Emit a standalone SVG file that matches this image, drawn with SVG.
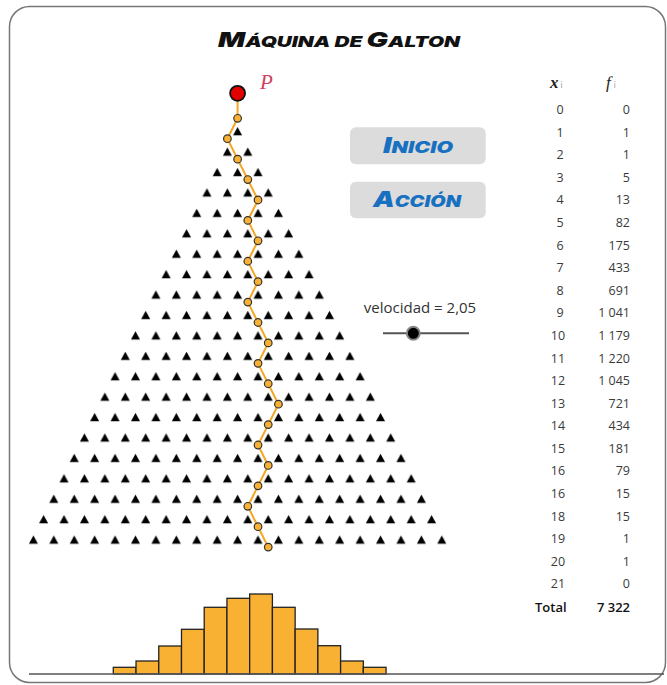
<svg xmlns="http://www.w3.org/2000/svg" width="667" height="685" viewBox="0 0 667 685">
<style>
.title{font-family:"Inter","Noto Sans","Open Sans",sans-serif;font-weight:900;font-style:italic;fill:#111;}
.btn{fill:#dcdcdc;}
.btxt{font-family:"Inter","Noto Sans","Open Sans",sans-serif;font-weight:900;font-style:italic;font-size:22px;fill:#1870c0;}
.sc{font-size:16px;}
.num{font-family:"Open Sans","Liberation Sans",sans-serif;font-size:12.5px;font-weight:400;fill:#3a3a3a;}
.xc{text-anchor:middle;}
.fc{text-anchor:end;}
.bar{fill:#f8b133;stroke:#222;stroke-width:1.3;}
.ball{fill:#f8b133;stroke:#333;stroke-width:1.2;}
</style>
<defs>
<pattern id="peg" patternUnits="userSpaceOnUse" width="20.42" height="20.42">
<polygon points="10.21,5.5 14.7,13.9 5.7,13.9" fill="#000"/>
</pattern>
</defs>
<rect x="9.5" y="6.5" width="656" height="676" rx="20" fill="#fff" stroke="#777" stroke-width="1.5"/>
<text class="title" x="218" y="47.3" font-size="20.5" textLength="242" lengthAdjust="spacingAndGlyphs">M<tspan font-size="15">ÁQUINA DE </tspan>G<tspan font-size="15">ALTON</tspan></text>
<g id="pegs">
<rect transform="translate(227.39,121.49)" width="20.42" height="20.42" fill="url(#peg)"/>
<rect transform="translate(217.18,141.91)" width="40.84" height="20.42" fill="url(#peg)"/>
<rect transform="translate(206.97,162.33)" width="61.26" height="20.42" fill="url(#peg)"/>
<rect transform="translate(196.76,182.75)" width="81.68" height="20.42" fill="url(#peg)"/>
<rect transform="translate(186.55,203.17)" width="102.10" height="20.42" fill="url(#peg)"/>
<rect transform="translate(176.34,223.59)" width="122.52" height="20.42" fill="url(#peg)"/>
<rect transform="translate(166.13,244.01)" width="142.94" height="20.42" fill="url(#peg)"/>
<rect transform="translate(155.92,264.43)" width="163.36" height="20.42" fill="url(#peg)"/>
<rect transform="translate(145.71,284.85)" width="183.78" height="20.42" fill="url(#peg)"/>
<rect transform="translate(135.50,305.27)" width="204.20" height="20.42" fill="url(#peg)"/>
<rect transform="translate(125.29,325.69)" width="224.62" height="20.42" fill="url(#peg)"/>
<rect transform="translate(115.08,346.11)" width="245.04" height="20.42" fill="url(#peg)"/>
<rect transform="translate(104.87,366.53)" width="265.46" height="20.42" fill="url(#peg)"/>
<rect transform="translate(94.66,386.95)" width="285.88" height="20.42" fill="url(#peg)"/>
<rect transform="translate(84.45,407.37)" width="306.30" height="20.42" fill="url(#peg)"/>
<rect transform="translate(74.24,427.79)" width="326.72" height="20.42" fill="url(#peg)"/>
<rect transform="translate(64.03,448.21)" width="347.14" height="20.42" fill="url(#peg)"/>
<rect transform="translate(53.82,468.63)" width="367.56" height="20.42" fill="url(#peg)"/>
<rect transform="translate(43.61,489.05)" width="387.98" height="20.42" fill="url(#peg)"/>
<rect transform="translate(33.40,509.47)" width="408.40" height="20.42" fill="url(#peg)"/>
<rect transform="translate(23.19,529.89)" width="428.82" height="20.42" fill="url(#peg)"/>
</g>
<g id="connectors">
<polyline fill="none" stroke="#f5a623" stroke-width="2" stroke-linejoin="round" points="237.6,93.3 237.6,118.3 227.39,138.72 237.6,159.14 247.81,179.56 258.02,199.98 247.81,220.4 258.02,240.82 247.81,261.24 258.02,281.66 247.81,302.08 258.02,322.5 268.23,342.92 258.02,363.34 268.23,383.76 278.44,404.18 268.23,424.6 258.02,445.02 268.23,465.44 258.02,485.86 247.81,506.28 258.02,526.7 268.23,547.12"/>
</g>
<g id="path-balls">
<circle class="ball" r="3.8" cx="237.6" cy="118.3"/>
<circle class="ball" r="3.8" cx="227.39" cy="138.72"/>
<circle class="ball" r="3.8" cx="237.6" cy="159.14"/>
<circle class="ball" r="3.8" cx="247.81" cy="179.56"/>
<circle class="ball" r="3.8" cx="258.02" cy="199.98"/>
<circle class="ball" r="3.8" cx="247.81" cy="220.4"/>
<circle class="ball" r="3.8" cx="258.02" cy="240.82"/>
<circle class="ball" r="3.8" cx="247.81" cy="261.24"/>
<circle class="ball" r="3.8" cx="258.02" cy="281.66"/>
<circle class="ball" r="3.8" cx="247.81" cy="302.08"/>
<circle class="ball" r="3.8" cx="258.02" cy="322.5"/>
<circle class="ball" r="3.8" cx="268.23" cy="342.92"/>
<circle class="ball" r="3.8" cx="258.02" cy="363.34"/>
<circle class="ball" r="3.8" cx="268.23" cy="383.76"/>
<circle class="ball" r="3.8" cx="278.44" cy="404.18"/>
<circle class="ball" r="3.8" cx="268.23" cy="424.6"/>
<circle class="ball" r="3.8" cx="258.02" cy="445.02"/>
<circle class="ball" r="3.8" cx="268.23" cy="465.44"/>
<circle class="ball" r="3.8" cx="258.02" cy="485.86"/>
<circle class="ball" r="3.8" cx="247.81" cy="506.28"/>
<circle class="ball" r="3.8" cx="258.02" cy="526.7"/>
<circle class="ball" r="3.8" cx="268.23" cy="547.12"/>
</g>
<g id="point-P">
<circle cx="237.6" cy="93.3" r="7.5" fill="#e00000" stroke="#111" stroke-width="1.8"/>
<text x="260" y="89.3" font-family="Liberation Serif,serif" font-style="italic" font-size="21" fill="#d23f5f">P</text>
</g>
<g id="btn-inicio">
<rect class="btn" x="350" y="127.3" width="135.7" height="37" rx="6"/>
<text class="btxt" x="383" y="152.7" textLength="70" lengthAdjust="spacingAndGlyphs">I<tspan class="sc">NICIO</tspan></text>
</g>
<g id="btn-accion">
<rect class="btn" x="350" y="181.7" width="135.7" height="36.6" rx="6"/>
<text class="btxt" x="373" y="207.3" textLength="88" lengthAdjust="spacingAndGlyphs">A<tspan class="sc">CCIÓN</tspan></text>
</g>
<g id="slider">
<text x="420" y="313.3" font-family="Open Sans,Liberation Sans,sans-serif" font-size="15" fill="#333" text-anchor="middle">velocidad = 2,05</text>
<line x1="383" y1="333.3" x2="469" y2="333.3" stroke="#555" stroke-width="2"/>
<circle cx="413.3" cy="333.3" r="6.5" fill="#000" stroke="#888" stroke-width="2"/>
</g>
<g id="table">
<text x="550" y="88" font-family="Liberation Serif,serif" font-style="italic" font-weight="bold" font-size="17" fill="#222">x<tspan font-family="Open Sans,sans-serif" font-style="normal" font-weight="300" font-size="9" fill="#555" dx="2">i</tspan></text>
<text x="606" y="88" font-family="Liberation Serif,serif" font-style="italic" font-size="17" fill="#222">f<tspan font-family="Open Sans,sans-serif" font-style="normal" font-weight="300" font-size="9" fill="#555" dx="3">i</tspan></text>
<g class="num">
<text class="xc" x="560" y="114">0</text><text class="fc" x="630" y="114">0</text>
<text class="xc" x="560" y="136.6">1</text><text class="fc" x="630" y="136.6">1</text>
<text class="xc" x="560" y="159.2">2</text><text class="fc" x="630" y="159.2">1</text>
<text class="xc" x="560" y="181.8">3</text><text class="fc" x="630" y="181.8">5</text>
<text class="xc" x="560" y="204.4">4</text><text class="fc" x="630" y="204.4">13</text>
<text class="xc" x="560" y="226.9">5</text><text class="fc" x="630" y="226.9">82</text>
<text class="xc" x="560" y="249.5">6</text><text class="fc" x="630" y="249.5">175</text>
<text class="xc" x="560" y="272.1">7</text><text class="fc" x="630" y="272.1">433</text>
<text class="xc" x="560" y="294.7">8</text><text class="fc" x="630" y="294.7">691</text>
<text class="xc" x="560" y="317.3">9</text><text class="fc" x="630" y="317.3">1 041</text>
<text class="xc" x="558" y="339.9">10</text><text class="fc" x="630" y="339.9">1 179</text>
<text class="xc" x="558" y="362.5">11</text><text class="fc" x="630" y="362.5">1 220</text>
<text class="xc" x="558" y="385.1">12</text><text class="fc" x="630" y="385.1">1 045</text>
<text class="xc" x="558" y="407.7">13</text><text class="fc" x="630" y="407.7">721</text>
<text class="xc" x="558" y="430.3">14</text><text class="fc" x="630" y="430.3">434</text>
<text class="xc" x="558" y="452.9">15</text><text class="fc" x="630" y="452.9">181</text>
<text class="xc" x="558" y="475.4">16</text><text class="fc" x="630" y="475.4">79</text>
<text class="xc" x="558" y="498">16</text><text class="fc" x="630" y="498">15</text>
<text class="xc" x="558" y="520.6">18</text><text class="fc" x="630" y="520.6">15</text>
<text class="xc" x="558" y="543.2">19</text><text class="fc" x="630" y="543.2">1</text>
<text class="xc" x="558" y="565.8">20</text><text class="fc" x="630" y="565.8">1</text>
<text class="xc" x="558" y="588.4">21</text><text class="fc" x="630" y="588.4">0</text>
</g>
<text x="535" y="611.5" font-family="Open Sans,Liberation Sans,sans-serif" font-size="13" font-weight="600" fill="#111">Total</text>
<text x="630" y="611.5" font-family="Open Sans,Liberation Sans,sans-serif" font-size="13" font-weight="600" fill="#111" text-anchor="end">7 322</text>
</g>
<g id="histogram">
<rect class="bar" x="113.3" y="667.3" width="22.73" height="6.7"/>
<rect class="bar" x="136.03" y="661" width="22.73" height="13"/>
<rect class="bar" x="158.76" y="646" width="22.73" height="28"/>
<rect class="bar" x="181.49" y="629.3" width="22.73" height="44.7"/>
<rect class="bar" x="204.22" y="607.3" width="22.73" height="66.7"/>
<rect class="bar" x="226.95" y="598.3" width="22.73" height="75.7"/>
<rect class="bar" x="249.68" y="594" width="22.73" height="80"/>
<rect class="bar" x="272.41" y="607.3" width="22.73" height="66.7"/>
<rect class="bar" x="295.14" y="629" width="22.73" height="45"/>
<rect class="bar" x="317.87" y="645.7" width="22.73" height="28.3"/>
<rect class="bar" x="340.6" y="661" width="22.73" height="13"/>
<rect class="bar" x="363.33" y="667.3" width="22.73" height="6.7"/>
<line x1="29" y1="674" x2="664" y2="674" stroke="#555" stroke-width="1.5"/>
</g>
</svg>
